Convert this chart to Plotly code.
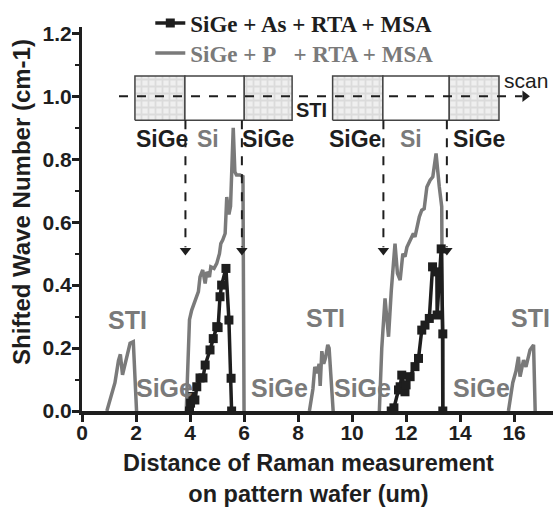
import plotly.graph_objects as go

# ---------------- data ----------------
# SiGe + P + RTA + MSA (gray line), segments separated by None
p_x = [0.92, 1.05, 1.22, 1.35, 1.42, 1.50, 1.63, 1.78, 1.90, 1.96, 2.02, None,
       3.86, 3.92, 3.98, 4.06, 4.19, 4.31, 4.37, 4.47, 4.56, 4.62, 4.72, 4.77, 4.89, 4.99,
       5.09, 5.14, 5.21, 5.30, 5.36, 5.44, 5.50, 5.60, 5.66, 5.72, 5.85, 5.96, 6.00, None,
       8.42, 8.55, 8.62, 8.70, 8.78, 8.82, 8.88, 8.95, 9.02, 9.10, 9.15, 9.22, 9.30, None,
       11.01, 11.10, 11.22, 11.35, 11.45, 11.53, 11.59, 11.68, 11.78, 11.88, 11.96, 12.03,
       12.15, 12.27, 12.33, 12.49, 12.58, 12.67, 12.77, 12.89, 12.99, 13.11, 13.23, 13.32, 13.36, None,
       15.79, 15.95, 16.07, 16.16, 16.22, 16.35, 16.44, 16.59, 16.72, 16.78]
p_y = [0.0, 0.04, 0.09, 0.16, 0.18, 0.115, 0.16, 0.215, 0.22, 0.12, 0.0, None,
       0.0, 0.15, 0.29, 0.32, 0.347, 0.379, 0.426, 0.448, 0.405, 0.442, 0.426, 0.458, 0.453, 0.469,
       0.50, 0.532, 0.543, 0.564, 0.68, 0.625, 0.65, 0.90, 0.76, 0.75, 0.75, 0.745, 0.0, None,
       0.0, 0.07, 0.14, 0.12, 0.15, 0.08, 0.19, 0.15, 0.17, 0.21, 0.20, 0.10, 0.0, None,
       0.0, 0.20, 0.358, 0.236, 0.38, 0.469, 0.532, 0.437, 0.416, 0.50, 0.49, 0.52,
       0.543, 0.564, 0.553, 0.617, 0.638, 0.643, 0.712, 0.733, 0.744, 0.818, 0.712, 0.649, 0.0, None,
       0.0, 0.09, 0.127, 0.172, 0.109, 0.162, 0.14, 0.194, 0.21, 0.0]

# SiGe + As + RTA + MSA (black line with square markers)
as_x = [3.98, 4.02, 4.10, 4.18, 4.25, 4.37, 4.48, 4.56, 4.74, 4.86, 4.99, 5.04, 5.11, 5.17,
        5.33, 5.44, 5.52, 5.54, None,
        11.45, 11.55, 11.72, 11.78, 11.84, 11.96, 12.00, 12.15, 12.33, 12.46, 12.58, 12.70,
        12.86, 12.98, 13.14, 13.15, 13.30, 13.36, 13.36]
as_y = [0.0, 0.025, 0.046, 0.035, 0.077, 0.105, 0.105, 0.146, 0.194, 0.23, 0.268, 0.265, 0.363, 0.40,
        0.453, 0.289, 0.104, 0.0, None,
        0.0, 0.01, 0.067, 0.077, 0.114, 0.061, 0.083, 0.109, 0.141, 0.167, 0.257, 0.273,
        0.294, 0.458, 0.442, 0.305, 0.515, 0.245, 0.0]

series_names = ["SiGe + As + RTA + MSA", "SiGe + P&nbsp;&nbsp;&nbsp;+ RTA + MSA"]
x_ticks = [0, 2, 4, 6, 8, 10, 12, 14, 16]

# schematic labels
region_labels = ["STI", "SiGe", "SiGe", "STI", "SiGe", "SiGe", "STI"]
region_x = [1.67, 3.07, 7.3, 9.0, 10.4, 14.8, 16.6]
region_y = [0.29, 0.073, 0.073, 0.295, 0.073, 0.073, 0.295]

box_groups = [[1.96, 3.81, 6.0, 7.78], [9.28, 11.14, 13.59, 15.44]]
box_labels = ["SiGe", "Si", "SiGe", "SiGe", "Si", "SiGe"]
box_label_x = [2.96, 4.67, 6.89, 10.11, 12.19, 14.7]

BLACK = "#1e1e1e"
GRAY = "#7a7a7a"
FONT = "Liberation Sans"

fig = go.Figure()

shapes = []
annotations = []
y_lo, y_hi = 0.924, 1.064
arrow_x = []
for g in box_groups:
    for i in range(3):
        if i == 1:
            shapes.append(dict(type="rect", x0=g[i], x1=g[i + 1], y0=y_lo, y1=y_hi,
                               line=dict(color="#444", width=1.5), fillcolor="white", layer="above"))
        else:
            fig.add_trace(go.Scatter(
                x=[g[i], g[i + 1], g[i + 1], g[i], g[i]], y=[y_lo, y_lo, y_hi, y_hi, y_lo],
                mode="lines", fill="toself", line=dict(color="#444", width=1.5),
                fillpattern=dict(shape="+", fgcolor="#c8c8c8", bgcolor="#efefef",
                                 size=7, solidity=0.45),
                showlegend=False, hoverinfo="skip"))
    arrow_x += [g[1] + 0.02, g[2] - 0.08]

for t, xx in zip(box_labels, box_label_x):
    annotations.append(dict(x=xx, y=0.863, text=t, showarrow=False,
                            font=dict(family=FONT, size=23, weight="bold",
                                      color=GRAY if t == "Si" else BLACK)))

fig.add_trace(go.Scatter(
    x=p_x, y=p_y, mode="lines", name="<span style='color:%s'>%s</span>" % (GRAY, series_names[1]),
    line=dict(color=GRAY, width=3.5), legend="legend2", connectgaps=False))
fig.add_trace(go.Scatter(
    x=as_x, y=as_y, mode="lines+markers", name=series_names[0],
    line=dict(color=BLACK, width=3.5), marker=dict(symbol="square", size=9, color=BLACK),
    legend="legend", connectgaps=False))

# vertical dashed arrows
for ax in arrow_x:
    shapes.append(dict(type="line", x0=ax, x1=ax, y0=y_lo, y1=0.52,
                       line=dict(color=BLACK, width=2, dash="dash"), layer="above"))
fig.add_trace(go.Scatter(x=arrow_x, y=[0.51] * len(arrow_x), mode="markers",
                         marker=dict(symbol="triangle-down", size=10, color=BLACK),
                         showlegend=False, hoverinfo="skip"))
# horizontal scan arrow
shapes.append(dict(type="line", x0=1.37, x1=16.3, y0=1.0, y1=1.0,
                   line=dict(color=BLACK, width=2, dash="dash"), layer="above"))
fig.add_trace(go.Scatter(x=[16.4], y=[1.0], mode="markers",
                         marker=dict(symbol="triangle-right", size=10, color=BLACK),
                         showlegend=False, hoverinfo="skip", cliponaxis=False))

annotations.append(dict(x=15.55, y=1.05, text="scan", showarrow=False, xanchor="left",
                        font=dict(family=FONT, size=21, color=BLACK)))
annotations.append(dict(x=8.5, y=0.955, text="STI", showarrow=False,
                        font=dict(family=FONT, size=20, weight="bold", color=BLACK)))
for t, xx, yy in zip(region_labels, region_x, region_y):
    annotations.append(dict(x=xx, y=yy, text=t, showarrow=False,
                            font=dict(family=FONT, size=25, weight="bold", color=GRAY)))

# axis titles
annotations.append(dict(xref="paper", yref="paper", x=-0.127, y=0.545,
                        xanchor="center", yanchor="middle",
                        text="Shifted Wave Number (cm-1)", textangle=-90, showarrow=False,
                        font=dict(family=FONT, size=24, weight="bold", color=BLACK)))
annotations.append(dict(xref="paper", yref="paper", x=0.48, y=-0.176,
                        xanchor="center", yanchor="middle",
                        text="Distance of Raman measurement<br>on pattern wafer (um)",
                        showarrow=False,
                        font=dict(family=FONT, size=23.5, weight="bold", color=BLACK)))

legend_font = dict(family="Liberation Serif", size=23, weight="bold", color=BLACK)
fig.update_layout(
    width=556, height=508,
    margin=dict(l=82, r=3, t=27, b=97, autoexpand=False),
    paper_bgcolor="white", plot_bgcolor="white",
    shapes=shapes, annotations=annotations,
    showlegend=True,
    legend=dict(x=0.145, y=1.0104, xanchor="left", yanchor="middle", bgcolor="rgba(0,0,0,0)",
                font=legend_font),
    legend2=dict(x=0.145, y=0.932, xanchor="left", yanchor="middle", bgcolor="rgba(0,0,0,0)",
                 font=legend_font),
    xaxis=dict(range=[0, 17.44], tickvals=x_ticks, ticks="outside", ticklen=7, tickwidth=2.5,
               tickcolor=BLACK, showline=True, linewidth=4, linecolor=BLACK, showgrid=False,
               zeroline=False, layer="above traces", automargin=False, ticklabelstandoff=-7,
               tickfont=dict(family=FONT, size=21, weight="bold", color=BLACK)),
    yaxis=dict(range=[0, 1.22], dtick=0.2, tickformat=".1f", ticks="outside", ticklen=7,
               tickwidth=2.5, tickcolor=BLACK, showline=True, linewidth=3, linecolor=BLACK,
               showgrid=False, zeroline=False, layer="above traces", automargin=False,
               ticklabelstandoff=-4,
               minor=dict(dtick=0.1, ticks="outside", ticklen=4, tickwidth=2, tickcolor=BLACK),
               tickfont=dict(family=FONT, size=21, weight="bold", color=BLACK)),
)

fig.write_html("out.html", config={"displayModeBar": False},
               post_script="document.body.style.margin='0';")
